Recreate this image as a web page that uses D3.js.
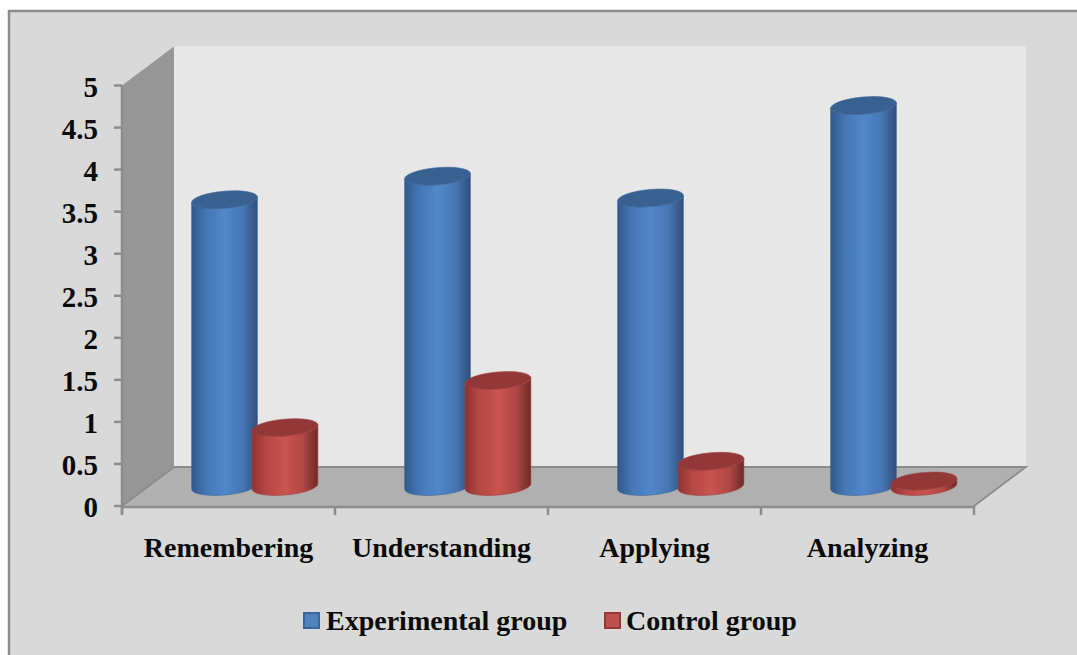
<!DOCTYPE html>
<html><head><meta charset="utf-8">
<script src="https://cdn.jsdelivr.net/npm/d3@7/dist/d3.min.js"></script>
<style>html,body{margin:0;padding:0;background:#fff}svg{display:block}text{font-family:"Liberation Serif",serif;font-weight:bold;fill:#0a0a0a}</style>
</head><body><div id="c"></div>
<script>
const categories = ["Remembering","Understanding","Applying","Analyzing"];
const seriesNames = ["Experimental group","Control group"];
const experimental = [3.41,3.69,3.43,4.53];
const control = [0.7,1.26,0.3,0.065];
const yTicks = [0,0.5,1,1.5,2,2.5,3,3.5,4,4.5,5];

const W=1077,H=655;
const svg=d3.select("#c").append("svg").attr("width",W).attr("height",H);
const defs=svg.append("defs");
function grad(id,edge,mid,edge2){
  const g=defs.append("linearGradient").attr("id",id);
  [[0,edge],[.22,d3.interpolateRgb(edge,mid)(.65)],[.5,mid],[.78,d3.interpolateRgb(edge2,mid)(.7)],[1,edge2]]
   .forEach(s=>g.append("stop").attr("offset",s[0]).attr("stop-color",s[1]));
}
grad("gb","#2f5a8c","#5187cb","#2f4f7c");
grad("gr","#8f3331","#cb5350","#6f2a28");
const sb=defs.append("filter").attr("id","soft");sb.append("feGaussianBlur").attr("stdDeviation",0.4);

svg.append("rect").attr("x",9).attr("y",11).attr("width",W).attr("height",H)
  .attr("fill","#d9d9d9").attr("stroke","#8c8c8c").attr("stroke-width",2.5);

const y=d3.scaleLinear().domain([0,5]).range([506,85.5]);
const x0=d3.scaleBand().domain(categories).range([122,974]);
const dx=52,dy=-39;
const wallBack="#e7e7e7",side="#969696",floor="#b0b0b0",ax="#8c8c8c";
const L=x0.range()[0],R=x0.range()[1],B=y(0),T=y(5);
const pts=a=>a.map(p=>p.join(",")).join(" ");
svg.append("polygon").attr("points",pts([[L+dx,T+dy],[R+dx,T+dy],[R+dx,B+dy],[L+dx,B+dy]])).attr("fill",wallBack);
svg.append("polygon").attr("points",pts([[L,T],[L+dx,T+dy],[L+dx,B+dy],[L,B]])).attr("fill",side);
svg.append("polygon").attr("points",pts([[L,B],[L+dx,B+dy],[R+dx,B+dy],[R,B]])).attr("fill",floor);
svg.append("path").attr("d",`M${L},${B}L${L+dx},${B+dy}H${R+dx}L${R},${B}`).attr("fill","none").attr("stroke",ax).attr("stroke-width",1.8);

const grp=svg.append("g").attr("stroke",ax).attr("stroke-width",2.5);
grp.append("line").attr("x1",L).attr("x2",L).attr("y1",T).attr("y2",B+8);
grp.append("line").attr("x1",L).attr("x2",R).attr("y1",B+1).attr("y2",B+1);
yTicks.forEach(t=>grp.append("line").attr("x1",L-8).attr("x2",L).attr("y1",y(t)).attr("y2",y(t)));
const xt=categories.map(c=>x0(c)).concat([R]);
xt.forEach(v=>grp.append("line").attr("x1",v).attr("x2",v).attr("y1",B).attr("y2",B+9));

yTicks.forEach(t=>svg.append("text").attr("x",98).attr("y",y(t)+11).attr("text-anchor","end")
  .attr("font-size",29).text(t));
categories.forEach(c=>svg.append("text").attr("x",x0(c)+x0.bandwidth()/2).attr("y",557).attr("text-anchor","middle")
  .attr("font-size",28).text(c));

const rx=33,ry=8.5,rot=-5,base=486.5;
const u=y(0)-y(1);
const hx=rx*Math.cos(rot*Math.PI/180),hy=rx*Math.sin(rot*Math.PI/180);
function bar(cx,v,fillId,top,edge){
  const yb=base,yt=base-v*u;
  const g=svg.append("g").attr("filter","url(#soft)");
  g.append("path").attr("d",
   `M${cx-hx},${yt-hy}L${cx-hx},${yb-hy}A${rx},${ry} ${rot} 0 0 ${cx+hx},${yb+hy}L${cx+hx},${yt+hy}A${rx},${ry} ${rot} 0 1 ${cx-hx},${yt-hy}Z`)
   .attr("fill",`url(#${fillId})`).attr("stroke",edge).attr("stroke-width",.6);
  g.append("ellipse").attr("rx",rx).attr("ry",ry).attr("transform",`translate(${cx},${yt}) rotate(${rot})`)
   .attr("fill",top).attr("stroke",edge).attr("stroke-width",.6);
}
categories.forEach((c,i)=>{
  const st=x0(c);
  bar(st+102.5,experimental[i],"gb","#386090","#3a6699");
  bar(st+163,control[i],"gr","#933937","#a33f3d");
});

const lg=[[304,"#4f81bd","#3a6699",seriesNames[0],326],[605,"#c0504d","#933937",seriesNames[1],626]];
lg.forEach(l=>{
  svg.append("rect").attr("x",l[0]).attr("y",613).attr("width",15).attr("height",15).attr("fill",l[1]).attr("stroke",l[2]).attr("stroke-width",2);
  svg.append("text").attr("x",l[4]).attr("y",630).attr("font-size",28).text(l[3]);
});
</script></body></html>
